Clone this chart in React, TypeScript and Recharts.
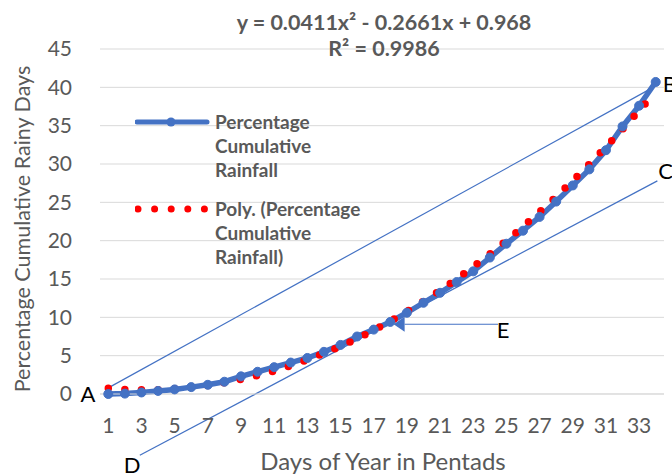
import { LineChart, Line, XAxis, YAxis, CartesianGrid, ReferenceLine, ReferenceDot, Legend } from 'recharts';

const FONT = 'Lato, "Open Sans", sans-serif';
const BLUE = '#4472C4';
const RED = '#FF0000';
const GREY_TEXT = '#595959';

// pentads of the year (x axis)
const pentads = [
  1, 2, 3, 4, 5, 6, 7, 8, 9, 10, 11, 12, 13, 14, 15, 16, 17,
  18, 19, 20, 21, 22, 23, 24, 25, 26, 27, 28, 29, 30, 31, 32, 33, 34,
];

// percentage cumulative rainfall (blue markers)
const cumulativeRainfall = [
  0.0, 0.05, 0.2, 0.4, 0.6, 0.9, 1.2, 1.6, 2.3, 2.9, 3.5, 4.1, 4.7, 5.5, 6.4, 7.5, 8.4,
  9.4, 10.6, 11.9, 13.2, 14.6, 16.0, 17.8, 19.6, 21.3, 23.1, 25.1, 27.2, 29.3, 31.8, 34.9, 37.6, 40.7,
];

// poly. trendline
const polyTrend = [
  0.74, 0.6, 0.54, 0.56, 0.67, 0.85, 1.12, 1.47, 1.9, 2.42, 3.01, 3.69, 4.46, 5.3, 6.22, 7.23, 8.32,
  9.5, 10.75, 12.09, 13.51, 15.01, 16.59, 18.26, 20.0, 21.83, 23.75, 25.74, 27.82, 29.98, 32.22, 34.54, 36.95, 39.43,
];

const xTicks = [1, 3, 5, 7, 9, 11, 13, 15, 17, 19, 21, 23, 25, 27, 29, 31, 33];
const yTicks = [0, 5, 10, 15, 20, 25, 30, 35, 40, 45];

const titleLines = ['y = 0.0411x\u00b2 - 0.2661x + 0.968', 'R\u00b2 = 0.9986'];
const xTitle = 'Days of Year in Pentads';
const yTitle = 'Percentage Cumulative Rainy Days';

const legendEntries = [
  { kind: 'line', lines: ['Percentage', 'Cumulative', 'Rainfall'] },
  { kind: 'dots', lines: ['Poly. (Percentage', 'Cumulative', 'Rainfall)'] },
];

// annotation lines, in data units
const lineAB = [{ x: 1, y: 0.8 }, { x: 33.6, y: 39.7 }];
const lineDC = [{ x: 2.9, y: -8.0 }, { x: 34.1, y: 27.8 }];
const arrowE = [{ x: 24.5, y: 9.1 }, { x: 18.2, y: 9.1 }];

const pointLabels = [
  { name: 'A', x: -0.22, y: 0 },
  { name: 'B', x: 34.85, y: 40.4 },
  { name: 'C', x: 34.6, y: 29.0 },
  { name: 'D', x: 2.43, y: -9.3 },
  { name: 'E', x: 24.8, y: 8.3 },
];

const data = pentads.map((p, i) => ({
  pentad: p,
  cumulative: cumulativeRainfall[i],
  poly: polyTrend[i],
}));

function ArrowShape(props: any) {
  const { x1, y1, x2, y2 } = props;
  const ang = Math.atan2(y2 - y1, x2 - x1);
  const len = 11;
  const half = 7.5;
  const bx = x2 - len * Math.cos(ang);
  const by = y2 - len * Math.sin(ang);
  const px = -Math.sin(ang) * half;
  const py = Math.cos(ang) * half;
  return (
    <g>
      <line x1={x1} y1={y1} x2={bx} y2={by} stroke={BLUE} strokeWidth={1.2} />
      <polygon points={`${x2},${y2} ${bx + px},${by + py} ${bx - px},${by - py}`} fill={BLUE} />
    </g>
  );
}

function LegendBox() {
  return (
    <div style={{ fontFamily: FONT, fontWeight: 700, fontSize: 19, color: GREY_TEXT, lineHeight: '24px' }}>
      {legendEntries.map((e, i) => (
        <div key={i} style={{ display: 'flex', alignItems: 'flex-start', marginBottom: 15 }}>
          <svg width={80} height={24} style={{ flex: 'none' }}>
            {e.kind === 'line' ? (
              <g>
                <line x1={2} y1={12} x2={72} y2={12} stroke={BLUE} strokeWidth={5} strokeLinecap="round" />
                <circle cx={36} cy={12} r={4.5} fill={BLUE} />
              </g>
            ) : (
              <line x1={3} y1={12} x2={70} y2={12} stroke={RED} strokeWidth={7} strokeDasharray="0 16.6" strokeLinecap="round" />
            )}
          </svg>
          <div style={{ whiteSpace: 'nowrap' }}>
            {e.lines.map((l) => (
              <div key={l}>{l}</div>
            ))}
          </div>
        </div>
      ))}
    </div>
  );
}

export default function App() {
  return (
    <div style={{ position: 'absolute', left: 0, top: 0, width: 672, height: 476, background: '#fff', fontFamily: FONT }}>
      <LineChart width={672} height={476} data={data} margin={{ top: 49, right: 8, left: 0, bottom: 52 }}>
        <CartesianGrid vertical={false} stroke="#d9d9d9" strokeWidth={1} />
        <XAxis
          dataKey="pentad"
          type="number"
          domain={[0.5, 34.5]}
          ticks={xTicks}
          interval={0}
          height={30}
          tickLine={false}
          axisLine={{ stroke: '#d9d9d9' }}
          tickMargin={18}
          tick={{ fill: GREY_TEXT, fontSize: 21, fontFamily: FONT }}
        />
        <YAxis
          type="number"
          domain={[0, 45]}
          ticks={yTicks}
          width={100}
          tickLine={false}
          axisLine={false}
          tickMargin={22}
          tick={{ fill: GREY_TEXT, fontSize: 21, fontFamily: FONT }}
        />
        <Legend
          layout="vertical"
          align="center"
          verticalAlign="middle"
          content={() => <LegendBox />}
          wrapperStyle={{ left: 135, top: 110, width: 300, height: 'auto' }}
        />
        <ReferenceLine segment={lineAB} stroke={BLUE} strokeWidth={1.2} ifOverflow="visible" />
        <ReferenceLine segment={lineDC} stroke={BLUE} strokeWidth={1.2} ifOverflow="visible" />
        <Line
          dataKey="cumulative"
          stroke={BLUE}
          strokeWidth={5.5}
          dot={{ r: 4.5, fill: BLUE, stroke: BLUE, strokeWidth: 1 }}
          isAnimationActive={false}
        />
        <Line
          dataKey="poly"
          stroke={RED}
          strokeWidth={7.5}
          strokeDasharray="0 16.6"
          strokeLinecap="round"
          dot={false}
          activeDot={false}
          isAnimationActive={false}
        />
        <ReferenceLine segment={arrowE} ifOverflow="visible" shape={ArrowShape} />
        {pointLabels.map((p) => (
          <ReferenceDot
            key={p.name}
            x={p.x}
            y={p.y}
            r={0}
            fill="none"
            stroke="none"
            ifOverflow="visible"
            label={{ value: p.name, position: 'center', fill: '#000', fontSize: 22, fontFamily: FONT }}
          />
        ))}
        <text x={384} textAnchor="middle" fontFamily={FONT} fontWeight={700} fontSize={21.5} fill={GREY_TEXT}>
          <tspan x={384} y={30}>{titleLines[0]}</tspan>
          <tspan x={384} y={56}>{titleLines[1]}</tspan>
        </text>
        <text x={383} y={470} textAnchor="middle" fontFamily={FONT} fontSize={24} fill={GREY_TEXT}>
          {xTitle}
        </text>
        <text x={30} y={229} transform="rotate(-90 30 229)" textAnchor="middle" fontFamily={FONT} fontSize={21.5} fill={GREY_TEXT}>
          {yTitle}
        </text>
      </LineChart>
    </div>
  );
}
